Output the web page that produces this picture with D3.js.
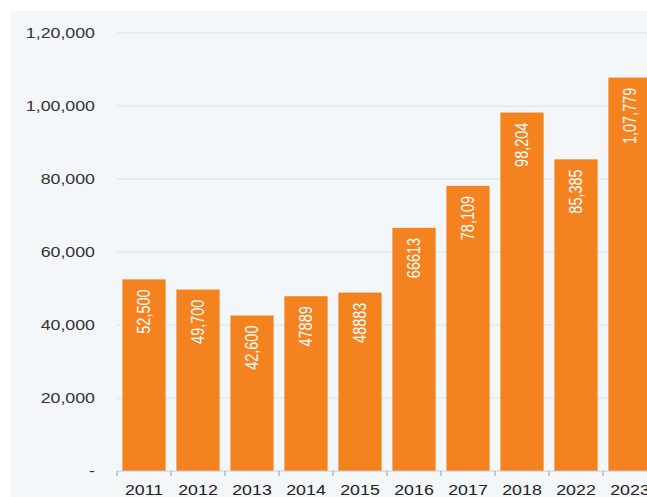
<!DOCTYPE html>
<html>
<head>
<meta charset="utf-8">
<script src="https://cdn.jsdelivr.net/npm/d3@7"></script>
<style>
  html, body { margin: 0; padding: 0; background: #fff; }
  svg { display: block; font-family: "Liberation Sans", Arial, sans-serif; }
</style>
</head>
<body>
<svg id="chart" width="647" height="497"></svg>
<script>
// data
const years = ['2011', '2012', '2013', '2014', '2015', '2016', '2017', '2018', '2022', '2023'];
const values = [52500, 49700, 42600, 47889, 48883, 66613, 78109, 98204, 85385, 107779];
const valueLabels = ['52,500', '49,700', '42,600', '47889', '48883', '66613', '78,109', '98,204', '85,385', '1,07,779'];
const yTicks = [0, 20000, 40000, 60000, 80000, 100000, 120000];
const yTickLabels = ['-', '20,000', '40,000', '60,000', '80,000', '1,00,000', '1,20,000'];

const width = 647, height = 497;
const left = 117, baseY = 471, topY = 33;
const stretch = 1.27; // the source picture looks widened, text included

const svg = d3.select('#chart');

// panel background
svg.append('rect')
  .attr('x', 11).attr('y', 11)
  .attr('width', width - 11).attr('height', height - 11)
  .attr('fill', '#f3f7fa');

const x = d3.scaleBand()
  .domain(years)
  .range([left, left + 540])
  .paddingInner(0.2)
  .paddingOuter(0.1);

const y = d3.scaleLinear()
  .domain([0, 120000])
  .range([baseY, topY]);

// gridlines
svg.append('g')
  .selectAll('line')
  .data(yTicks.filter(d => d > 0))
  .enter().append('line')
  .attr('x1', left).attr('x2', width)
  .attr('y1', d => y(d)).attr('y2', d => y(d))
  .attr('stroke', '#dde2e6')
  .attr('stroke-width', 1);

// y labels
svg.append('g')
  .selectAll('text')
  .data(yTicks)
  .enter().append('text')
  .attr('transform', d => 'translate(95,' + y(d) + ') scale(' + stretch + ',1)')
  .attr('dy', '0.35em')
  .attr('text-anchor', 'end')
  .attr('font-size', 14)
  .attr('fill', '#333')
  .text((d, i) => yTickLabels[i]);

// bars
svg.append('g')
  .selectAll('rect')
  .data(values)
  .enter().append('rect')
  .attr('x', (d, i) => x(years[i]))
  .attr('y', d => y(d))
  .attr('width', x.bandwidth())
  .attr('height', d => baseY - y(d))
  .attr('fill', '#f4821f');

// value labels, rotated
svg.append('g')
  .selectAll('text')
  .data(values)
  .enter().append('text')
  .attr('transform', (d, i) => 'translate(' + (x(years[i]) + x.bandwidth() / 2) + ',' + (y(d) + 10) + ') scale(' + stretch + ',1) rotate(-90)')
  .attr('text-anchor', 'end')
  .attr('dy', '0.35em')
  .attr('font-size', 14.5)
  .attr('fill', '#fff')
  .text((d, i) => valueLabels[i]);

// x axis line and ticks
svg.append('line')
  .attr('x1', left).attr('x2', width)
  .attr('y1', baseY).attr('y2', baseY)
  .attr('stroke', '#c8ccd0');

svg.append('g')
  .selectAll('line')
  .data(d3.range(years.length + 1))
  .enter().append('line')
  .attr('x1', i => left + i * x.step())
  .attr('x2', i => left + i * x.step())
  .attr('y1', baseY).attr('y2', baseY + 5)
  .attr('stroke', '#9aa0a6');

svg.append('g')
  .selectAll('text')
  .data(years)
  .enter().append('text')
  .attr('transform', d => 'translate(' + (x(d) + x.bandwidth() / 2) + ',495) scale(' + stretch + ',1)')
  .attr('text-anchor', 'middle')
  .attr('font-size', 14)
  .attr('fill', '#222')
  .text(d => d);
</script>
</body>
</html>
